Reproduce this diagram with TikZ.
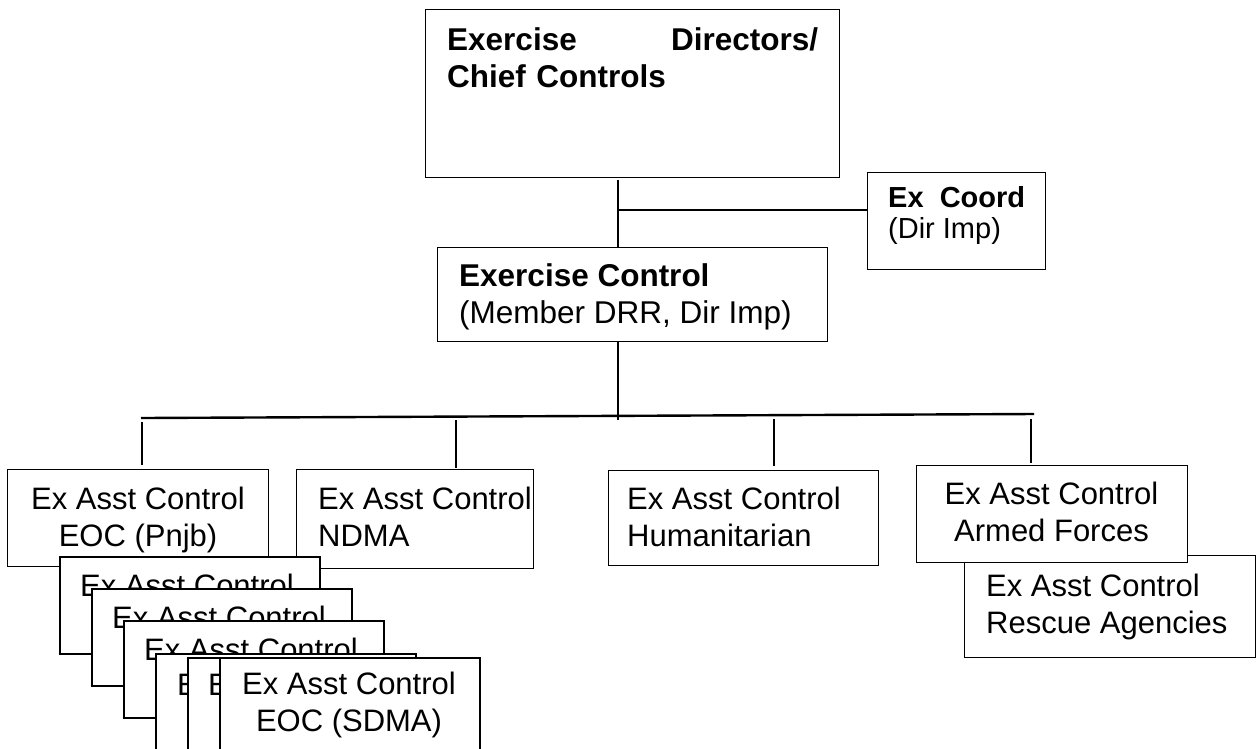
\documentclass[tikz,border=0pt]{standalone}
\usepackage{fontspec}
\setmainfont{Liberation Sans}
\usetikzlibrary{calc}
\begin{document}
\begin{tikzpicture}[x=1pt,y=-1pt,
  bx/.style={draw=black, line width=1.3pt, fill=white, inner sep=0pt, anchor=north west},
  sbx/.style={bx, line width=1.9pt, minimum width=260pt, minimum height=97pt},
  tx/.style={anchor=base west, inner sep=0pt, align=left, font=\fontsize{31}{36.5}\selectfont},
  txc/.style={anchor=base, inner sep=0pt, align=center, font=\fontsize{31}{36.5}\selectfont},
  con/.style={line width=2.8pt}]
\useasboundingbox (0,0) rectangle (1257,748);
\begin{scope}
\clip (0,0) rectangle (1257,748);
% top boxes
\node[bx, minimum width=414pt, minimum height=168pt] (top) at (425,9) {};
\node[tx, text width=371pt, font=\fontsize{31.5}{37}\selectfont\bfseries] (topt) at (447,50) {Exercise\hfill Directors/\\Chief Controls};
\node[bx, minimum width=178pt, minimum height=97pt] (coord) at (867,172) {};
\node[tx, font=\fontsize{29}{31}\selectfont] (coordt) at (888,238) {{\bfseries Ex\ \ Coord}\\(Dir Imp)};
\node[bx, minimum width=390pt, minimum height=94pt] (ctrl) at (437,247) {};
\node[tx, font=\fontsize{31.5}{36.5}\selectfont] (ctrlt) at (459,323) {{\bfseries Exercise Control}\\(Member DRR, Dir Imp)};
% second level
\node[bx, minimum width=261pt, minimum height=97pt] (b1) at (7,469) {};
\node[txc] (b1t) at (138,546) {Ex Asst Control\\EOC (Pnjb)};
\node[bx, minimum width=237pt, minimum height=99pt] (b2) at (296,469) {};
\node[tx] (b2t) at (318,546) {Ex Asst Control\\NDMA};
\node[bx, minimum width=270pt, minimum height=95pt] (b3) at (608,470) {};
\node[tx] (b3t) at (627,546) {Ex Asst Control\\Humanitarian};
\node[bx, minimum width=291pt, minimum height=102pt] (b5) at (964,555) {};
\node[tx] (b5t) at (986,633) {Ex Asst Control\\Rescue Agencies};
\node[bx, minimum width=271pt, minimum height=97pt] (b4) at (916,465) {};
\node[txc] (b4t) at (1051.5,541) {Ex Asst Control\\Armed Forces};
% stacked boxes
\node[sbx] (s1) at (59,556) {};
\node[tx] (s1t) at (80,596) {Ex Asst Control};
\node[sbx] (s2) at (91,588) {};
\node[tx] (s2t) at (112,628) {Ex Asst Control};
\node[sbx] (s3) at (123,620) {};
\node[tx] (s3t) at (144,660) {Ex Asst Control};
\node[sbx] (s4) at (155,653) {};
\node[tx] (s4t) at (177,695) {Ex Asst Control};
\node[sbx] (s5) at (187,657) {};
\node[tx] (s5t) at (208,695) {Ex Asst Control};
\node[sbx] (s6) at (219,657) {};
\node[txc] (s6t) at (349,731) {Ex Asst Control\\EOC (SDMA)};
\end{scope}
% connectors
\coordinate (j1) at (618,210);
\draw[con] (top.south -| j1) ++(0,2) -- (ctrl.north -| j1);
\draw[con] (j1) -- (coord.west |- j1);
\coordinate (j2) at (618,420);
\draw[con] (ctrl.south -| j2) -- (j2);
\coordinate (hl) at (141,418);
\coordinate (hr) at (1034,414);
\draw[con, line width=2.4pt] (hl) -- (hr);
\coordinate (t1) at (142,422);
\coordinate (t2) at (456,420);
\coordinate (t3) at (774,419);
\coordinate (t4) at (1031,419);
\draw[con] (t1) -- ($(b1.north -| t1)+(0,-4)$);
\draw[con] (t2) -- ($(b2.north -| t2)+(0,-1)$);
\draw[con] (t3) -- ($(b3.north -| t3)+(0,-4)$);
\draw[con] (t4) -- ($(b4.north -| t4)+(0,-2)$);
\end{tikzpicture}
\end{document}
